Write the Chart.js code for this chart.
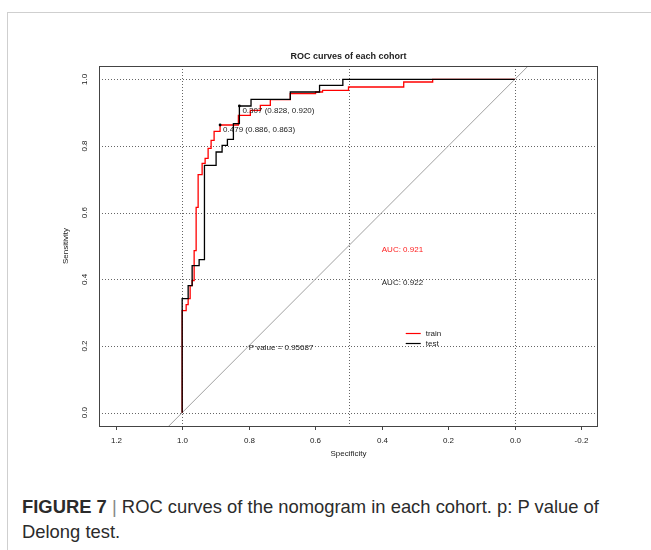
<!DOCTYPE html>
<html>
<head>
<meta charset="utf-8">
<script src="https://cdn.jsdelivr.net/npm/chart.js@4.4.0/dist/chart.umd.min.js"></script>
<style>
  html, body { margin: 0; padding: 0; background: #fff; }
  body { width: 651px; height: 550px; position: relative; overflow: hidden; font-family: "Liberation Sans", Arial, sans-serif; }
  #frame { position: absolute; left: 7px; top: 12px; right: -2px; bottom: -2px; border-left: 1px solid #cfcfcf; border-top: 1px solid #cfcfcf; }
  #chart { position: absolute; left: 0; top: 0; }
  #caption { position: absolute; left: 22px; top: 494px; font-size: 18.4px; line-height: 25px; color: #2b2b2b; white-space: nowrap; }
  #caption .sep { color: #888; font-weight: normal; }
</style>
</head>
<body>
<div id="frame"></div>
<canvas id="chart" width="651" height="470"></canvas>
<div id="caption"><b>FIGURE 7</b> <span class="sep">|</span> ROC curves of the nomogram in each cohort. p: P value of<br>Delong test.</div>
<script>
// ROC step corners (specificity, sensitivity)
const trainSpec = [1.000, 0.988, 0.982, 0.976, 0.970, 0.964, 0.958, 0.952, 0.940, 0.931, 0.922, 0.913, 0.904, 0.886, 0.831, 0.795, 0.765, 0.735, 0.675, 0.599, 0.578, 0.500, 0.334, 0.247, 0.000];
const trainSens = [0.000, 0.306, 0.324, 0.342, 0.381, 0.396, 0.486, 0.616, 0.714, 0.748, 0.763, 0.793, 0.817, 0.844, 0.863, 0.892, 0.907, 0.922, 0.939, 0.957, 0.962, 0.967, 0.977, 0.992, 1.000];
const testSpec = [1.000, 0.982, 0.970, 0.949, 0.933, 0.898, 0.880, 0.864, 0.846, 0.828, 0.793, 0.675, 0.587, 0.517, 0.000];
const testSens = [0.000, 0.342, 0.381, 0.441, 0.459, 0.742, 0.782, 0.802, 0.820, 0.867, 0.920, 0.940, 0.962, 0.982, 1.000];

// best thresholds printed on the curves
const thrSpec = [0.828, 0.886];
const thrSens = [0.920, 0.863];
const thrCut = ['0.307', '0.479'];

const cohorts = ['train', 'test'];
const cohortColors = ['#ff0000', '#000000'];
const aucValues = [0.921, 0.922];
const pValue = 0.95687;

const xTicks = [1.2, 1.0, 0.8, 0.6, 0.4, 0.2, 0.0, -0.2];
const yTicks = [0.0, 0.2, 0.4, 0.6, 0.8, 1.0];
const xGrid = [1.0, 0.5, 0.0];

const FONT = '"Liberation Sans", Arial, sans-serif';

function seg(ctx, x1, y1, x2, y2) {
    ctx.beginPath();
    ctx.moveTo(x1, y1);
    ctx.lineTo(x2, y2);
    ctx.stroke();
}

// R-style decorations: grid, chance line, box, axes, texts, legend
const rocDecor = {
    id: 'rocDecor',
    beforeDatasetsDraw(chart) {
        const { ctx, chartArea: a, scales: { x, y } } = chart;
        ctx.save();
        ctx.strokeStyle = '#666';
        ctx.lineWidth = 1;
        ctx.setLineDash([1, 2]);
        yTicks.forEach(v => {
            const py = Math.round(y.getPixelForValue(v)) + 0.5;
            seg(ctx, a.left, py, a.right, py);
        });
        xGrid.forEach(v => {
            const px = Math.round(x.getPixelForValue(v)) + 0.5;
            seg(ctx, px, a.top, px, a.bottom);
        });
        ctx.setLineDash([]);

        // chance diagonal through (1,0) and (0,1)
        ctx.beginPath();
        ctx.rect(a.left, a.top, a.right - a.left, a.bottom - a.top);
        ctx.clip();
        ctx.strokeStyle = '#a0a0a0';
        seg(ctx, x.getPixelForValue(2), y.getPixelForValue(-1), x.getPixelForValue(-1), y.getPixelForValue(2));
        ctx.restore();
    },
    afterDatasetsDraw(chart) {
        const { ctx, chartArea: a, scales: { x, y } } = chart;
        ctx.save();

        // box
        ctx.strokeStyle = '#444';
        ctx.lineWidth = 1;
        ctx.strokeRect(a.left + 0.5, a.top + 0.5, a.right - a.left - 1, a.bottom - a.top);

        // x axis ticks + labels
        ctx.fillStyle = '#222';
        ctx.font = '8px ' + FONT;
        ctx.textAlign = 'center';
        ctx.textBaseline = 'middle';
        xTicks.forEach(v => {
            const px = Math.round(x.getPixelForValue(v)) + 0.5;
            seg(ctx, px, a.bottom, px, a.bottom + 4);
            ctx.fillText(v.toFixed(1), px, a.bottom + 15);
        });

        // y axis labels (rotated, like R's las = 0)
        yTicks.forEach(v => {
            const py = y.getPixelForValue(v);
            ctx.save();
            ctx.translate(a.left - 14, py);
            ctx.rotate(-Math.PI / 2);
            ctx.fillText(v.toFixed(1), 0, 0);
            ctx.restore();
        });

        // axis titles
        ctx.fillText('Specificity', (a.left + a.right) / 2, a.bottom + 28);
        ctx.save();
        ctx.translate(a.left - 33, (a.top + a.bottom) / 2);
        ctx.rotate(-Math.PI / 2);
        ctx.fillText('Sensitivity', 0, 0);
        ctx.restore();

        // main title
        ctx.font = 'bold 9px ' + FONT;
        ctx.fillText('ROC curves of each cohort', (a.left + a.right) / 2, a.top - 9);

        // threshold labels
        ctx.font = '8px ' + FONT;
        ctx.textAlign = 'left';
        ctx.textBaseline = 'top';
        thrSpec.forEach((s, i) => {
            const txt = thrCut[i] + ' (' + s.toFixed(3) + ', ' + thrSens[i].toFixed(3) + ')';
            ctx.fillText(txt, x.getPixelForValue(s) + 3, y.getPixelForValue(thrSens[i]) + 1);
        });

        // AUC texts
        ctx.textBaseline = 'middle';
        const aucY = [0.49, 0.39];
        aucValues.forEach((v, i) => {
            ctx.fillStyle = i === 0 ? '#ff2020' : '#222';
            ctx.fillText('AUC: ' + v.toFixed(3), x.getPixelForValue(0.40), y.getPixelForValue(aucY[i]));
        });

        // p value of DeLong test
        ctx.fillStyle = '#222';
        ctx.fillText('P value = ' + pValue, x.getPixelForValue(0.80), y.getPixelForValue(0.195));

        // legend
        const lx = x.getPixelForValue(0.328);
        const lyTop = y.getPixelForValue(0.238);
        cohorts.forEach((name, i) => {
            const ly = Math.round(lyTop + i * 10) + 0.5;
            ctx.strokeStyle = cohortColors[i];
            ctx.lineWidth = 1.2;
            seg(ctx, lx, ly, lx + 15, ly);
            ctx.fillStyle = '#222';
            ctx.fillText(name, lx + 20, ly);
        });
        ctx.restore();
    }
};

const toPoints = (sx, sy) => sx.map((s, i) => ({ x: s, y: sy[i] }));

new Chart(document.getElementById('chart'), {
    type: 'line',
    data: {
        datasets: [
            {
                label: cohorts[0],
                data: toPoints(trainSpec, trainSens),
                borderColor: cohortColors[0],
                borderWidth: 1.3,
                stepped: 'after',
                pointRadius: 0,
                fill: false,
                order: 2
            },
            {
                label: cohorts[1],
                data: toPoints(testSpec, testSens),
                borderColor: cohortColors[1],
                borderWidth: 1.3,
                stepped: 'after',
                pointRadius: 0,
                fill: false,
                order: 1
            },
            {
                type: 'scatter',
                label: 'thresholds',
                data: toPoints(thrSpec, thrSens),
                pointRadius: 1.4,
                backgroundColor: '#000',
                borderWidth: 0,
                order: 0
            }
        ]
    },
    options: {
        responsive: false,
        animation: false,
        layout: { padding: { left: 99, top: 66, right: 53, bottom: 44 } },
        plugins: { legend: { display: false }, tooltip: { enabled: false } },
        scales: {
            x: { type: 'linear', reverse: true, min: -0.25, max: 1.25, display: false },
            y: { type: 'linear', min: -0.04, max: 1.04, display: false }
        }
    },
    plugins: [rocDecor]
});
</script>
</body>
</html>
